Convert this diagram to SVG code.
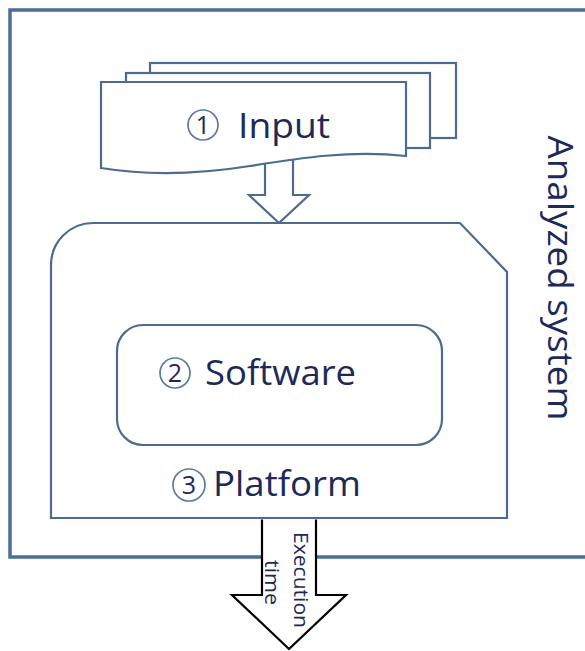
<svg xmlns="http://www.w3.org/2000/svg" width="585" height="651" viewBox="0 0 585 651">
<style>
.ln{fill:#fff;stroke:#4d6b8f;stroke-width:2.2;stroke-linejoin:miter}
.lbl{font-family:"Open Sans","Noto Sans",sans-serif;font-size:35px;fill:#1c2a5a}
.num{font-family:"Open Sans","Noto Sans",sans-serif;font-size:25px;fill:#1c2a5a;text-anchor:middle}
.circ{fill:none;stroke:#5a7ba3;stroke-width:1.7}
.small{font-family:"Open Sans","Noto Sans",sans-serif;font-size:20px;fill:#1c2a5a;text-anchor:middle}
</style>
<rect width="585" height="651" fill="#fff"/>
<g id="analyzed-system">
<path d="M600,10 H10 V557 H600" fill="none" stroke="#4a6e97" stroke-width="3.5"/>
<text class="lbl" text-anchor="middle" transform="translate(548,278) rotate(90)" textLength="285" lengthAdjust="spacingAndGlyphs">Analyzed system</text>
</g>
<g id="connectors">
<path id="input-arrow" d="M265,160 V195 H249 L279,223 L309,195 H293 V160" fill="#fff" stroke="#4d6b8f" stroke-width="2.2"/>
<g id="output-arrow">
<path d="M262,519.5 V595 H232 L289,649 L346,595 H316 V519.5" fill="#fff" stroke="#000" stroke-width="2.2"/>
<text class="small" transform="translate(294,580) rotate(90)" textLength="96" lengthAdjust="spacingAndGlyphs">Execution</text>
<text class="small" transform="translate(265,582.5) rotate(90)" textLength="45" lengthAdjust="spacingAndGlyphs">time</text>
</g>
</g>
<g id="input">
<rect class="ln" x="150" y="63" width="306" height="75"/>
<rect class="ln" x="126" y="73" width="304" height="75"/>
<path class="ln" d="M101,82 H406 V156 C350,150 300,158 250,166 C200,174 150,176 101,168 Z"/>
<circle class="circ" cx="203" cy="125" r="15"/>
<text class="num" x="203" y="134">1</text>
<text class="lbl" x="238" y="138" textLength="92" lengthAdjust="spacingAndGlyphs">Input</text>
</g>
<g id="platform">
<path class="ln" d="M51,518 V265 A42,42 0 0 1 93,223 H460 L507,272 V518 Z"/>
<circle class="circ" cx="189" cy="485" r="16"/>
<text class="num" x="189" y="494">3</text>
<text class="lbl" x="213" y="496" textLength="148" lengthAdjust="spacingAndGlyphs">Platform</text>
</g>
<g id="software">
<rect class="ln" x="117" y="325" width="325" height="120" rx="26"/>
<circle class="circ" cx="175" cy="373" r="15"/>
<text class="num" x="175" y="382">2</text>
<text class="lbl" x="205" y="385" textLength="151" lengthAdjust="spacingAndGlyphs">Software</text>
</g>
</svg>
